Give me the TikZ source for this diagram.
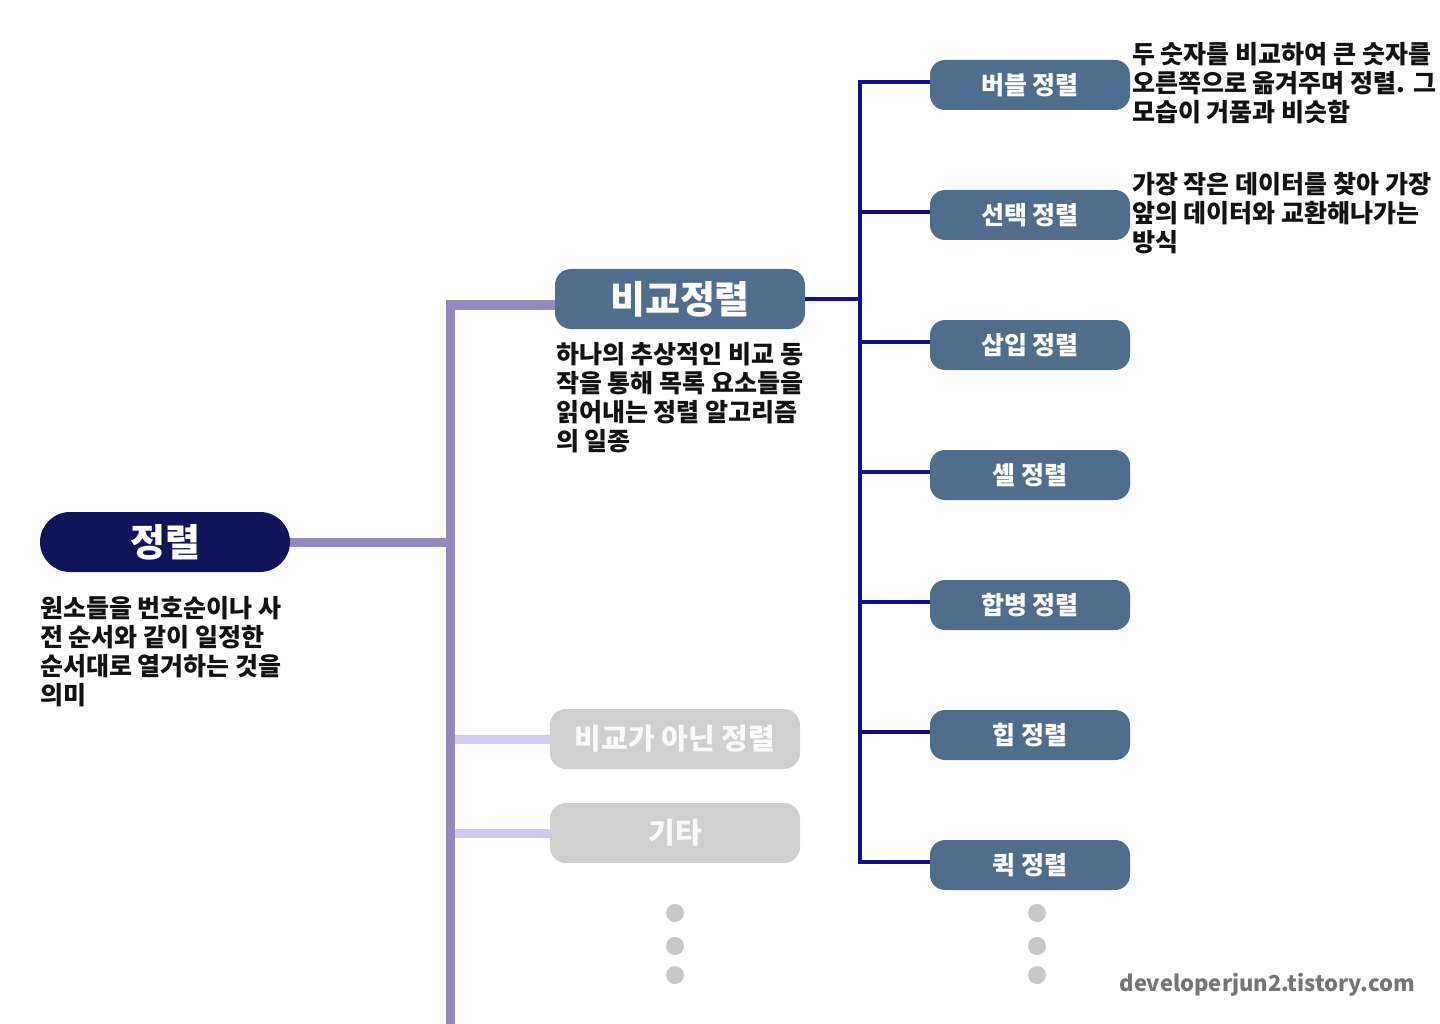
\documentclass[tikz,border=0pt]{standalone}
\usepackage{fontspec}
\setmainfont{Noto Sans CJK KR}
\usetikzlibrary{positioning}
\definecolor{rootblue}{HTML}{10145A}
\definecolor{slate}{HTML}{4F6E8E}
\definecolor{trunkpurple}{HTML}{9488BC}
\definecolor{lavender}{HTML}{D3C9F0}
\definecolor{navyline}{HTML}{10108C}
\definecolor{softgray}{HTML}{CFCFCF}
\definecolor{dotgray}{HTML}{C8C8C8}
\definecolor{markgray}{HTML}{757575}
\begin{document}
\begin{tikzpicture}[x=1pt, y=-1pt,
  root node/.style={rounded corners=30pt, fill=rootblue, text=white, minimum width=250pt, minimum height=60pt, font=\bfseries\fontsize{38}{42}\selectfont},
  group node/.style={rounded corners=16pt, fill=slate, text=white, minimum width=250pt, minimum height=60pt, font=\bfseries\fontsize{38}{42}\selectfont},
  gray node/.style={rounded corners=16pt, fill=softgray, text=white!95!gray, minimum width=250pt, minimum height=60pt, font=\bfseries\fontsize{29}{32}\selectfont},
  sort node/.style={rounded corners=15pt, fill=slate, text=white, minimum width=200pt, minimum height=50pt, font=\bfseries\fontsize{25}{28}\selectfont},
  desc/.style={align=left, inner sep=0pt, text=black!93, font=\bfseries\fontsize{25}{29}\selectfont},
  trunk/.style={trunkpurple, line width=9pt},
  twig/.style={lavender, line width=9pt},
  branch/.style={navyline, line width=4pt},
  dot/.style={circle, fill=dotgray, inner sep=0pt, minimum size=18pt}]
  \useasboundingbox (0,0) rectangle (1440,1024);

  \node[root node] (root) at (165,542) {정렬};
  \node[desc] (rootdesc) [below right=24pt and 0pt of root.south west] {원소들을 번호순이나 사\\전 순서와 같이 일정한\\순서대로 열거하는 것을\\의미};

  \node[group node] (compare) at (680,299) {비교정렬};
  \node[desc] (comparedesc) [below right=13pt and 1pt of compare.south west] {하나의 추상적인 비교 동\\작을 통해 목록 요소들을\\읽어내는 정렬 알고리즘\\의 일종};

  \node[gray node] (noncompare) at (675,739) {비교가 아닌 정렬};
  \node[gray node] (etc) at (675,833) {기타};

  \coordinate (trunktop) at (450,301);
  \coordinate (trunkbottom) at (450,1024);
  \coordinate (spinetop) at (860,80);
  \coordinate (spinebottom) at (860,864);

  \draw[trunk] (root.east) -- (root.east -| trunktop);
  \draw[trunk] (trunkbottom) |- ([yshift=-6pt]compare.west);
  \draw[twig] (noncompare.west) -- ([xshift=5pt]noncompare.west -| trunktop);
  \draw[twig] (etc.west) -- ([xshift=5pt]etc.west -| trunktop);
  \draw[branch] (compare.east) -- (compare.east -| spinetop);
  \draw[branch] (spinetop) -- (spinebottom);

  \foreach \name/\lab/\y in {bubble/버블 정렬/85, selection/선택 정렬/215, insertion/삽입 정렬/345, shell/셸 정렬/475, merge/합병 정렬/605, heap/힙 정렬/735, quick/퀵 정렬/865}
  {
    \node[sort node] (\name) at (1030,\y) {\lab};
    \draw[branch] ([yshift=3pt]\name.west) -- ([yshift=3pt]\name.west -| spinetop);
  }

  \node[desc, anchor=north west] (bubbledesc) at (1132,42) {두 숫자를 비교하여 큰 숫자를\\오른쪽으로 옮겨주며 정렬. 그\\모습이 거품과 비슷함};
  \node[desc, anchor=north west] (selectiondesc) at (1132,172) {가장 작은 데이터를 찾아 가장\\앞의 데이터와 교환해나가는\\방식};

  \foreach \y [count=\i] in {913,946,975}
  {
    \node[dot] (leftdot\i) at (675,\y) {};
    \node[dot] (rightdot\i) at (1037,\y) {};
  }

  \node[anchor=east, inner sep=0pt, text=markgray, font=\bfseries\fontsize{22}{26}\selectfont] (mark) at (1415,985) {developerjun2.tistory.com};
\end{tikzpicture}
\end{document}
